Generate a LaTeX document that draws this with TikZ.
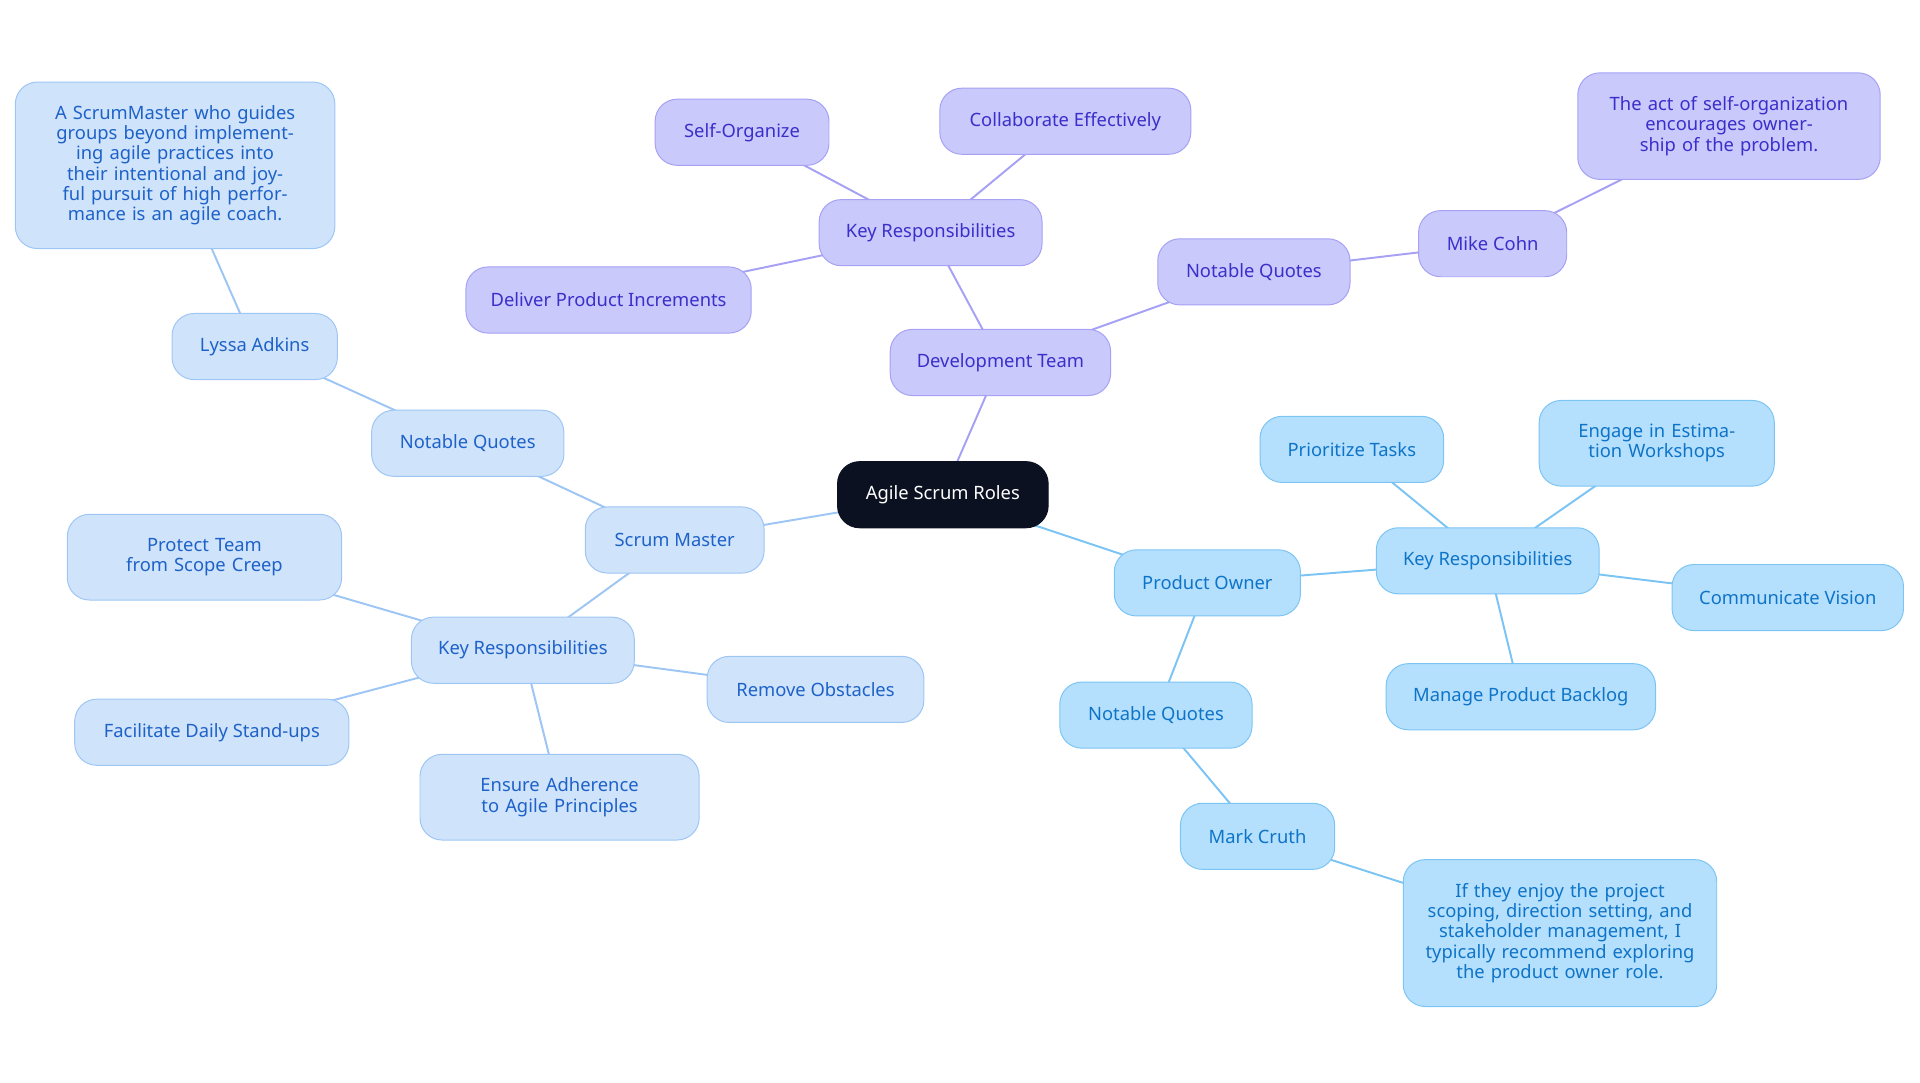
\documentclass[tikz,border=0pt]{standalone}
\usepackage{fontspec}
\setmainfont{Noto Sans}
\definecolor{rootc}{HTML}{0B1120}
\definecolor{pf}{HTML}{C9C9FC}\definecolor{ps}{HTML}{A6A1F4}\definecolor{pt}{HTML}{3B2FC9}
\definecolor{sf}{HTML}{CFE3FB}\definecolor{ss}{HTML}{9EC6F4}\definecolor{st}{HTML}{1E62C8}
\definecolor{of}{HTML}{B4E0FD}\definecolor{os}{HTML}{7CC4F4}\definecolor{ot}{HTML}{0F74C7}
\begin{document}
\begin{tikzpicture}[x=1pt,y=-1pt,
 base/.style={rounded corners=18pt,minimum height=54pt,align=center,font=\fontsize{15}{16.5}\selectfont,line width=0.8pt,inner sep=4pt},
 pn/.style={base,fill=pf,draw=ps,text=pt},
 sn/.style={base,fill=sf,draw=ss,text=st},
 on/.style={base,fill=of,draw=os,text=ot},
 pl/.style={draw=ps,line width=1.6pt},
 sl/.style={draw=ss,line width=1.6pt},
 ol/.style={draw=os,line width=1.6pt}]
\useasboundingbox (0,0) rectangle (1568,884);
\def\E#1#2#3{\draw[#1] (#2.center) -- (#3.center);}
% positions via coordinates first
\coordinate (croot) at (770,404);
\begin{scope}[every node/.style={}]
\end{scope}
% edges drawn with coordinates of nodes defined after -> define nodes in a pgfonlayer-free way: draw edges with named coordinates
\coordinate (Ar) at (770,404);
\coordinate (Ad) at (817,296);\coordinate (Akd) at (760,190);\coordinate (As) at (606,108);
\coordinate (Ac) at (870,99);\coordinate (Adl) at (497,245);\coordinate (And) at (1024,222);
\coordinate (Am) at (1219,199);\coordinate (Aqd) at (1412,103);
\coordinate (Asm) at (551,441);\coordinate (Ans) at (382,362);\coordinate (Al) at (208,283);
\coordinate (Aqs) at (143,135);\coordinate (Aks) at (427,531);\coordinate (Apr) at (167,455);
\coordinate (Af) at (173,598);\coordinate (Ae) at (457,651);\coordinate (Arm) at (666,563);
\coordinate (Ap) at (986,476);\coordinate (Akp) at (1215,458);\coordinate (Api) at (1104,367);
\coordinate (Aen) at (1353,362);\coordinate (Aco) at (1460,488);\coordinate (Ama) at (1242,569);
\coordinate (Anp) at (944,584);\coordinate (Amk) at (1027,683);\coordinate (Aqp) at (1274,762);
\E{pl}{Ar}{Ad}\E{pl}{Ad}{Akd}\E{pl}{Akd}{As}\E{pl}{Akd}{Ac}\E{pl}{Akd}{Adl}
\E{pl}{Ad}{And}\E{pl}{And}{Am}\E{pl}{Am}{Aqd}
\E{sl}{Ar}{Asm}\E{sl}{Asm}{Ans}\E{sl}{Ans}{Al}\E{sl}{Al}{Aqs}\E{sl}{Asm}{Aks}
\E{sl}{Aks}{Apr}\E{sl}{Aks}{Af}\E{sl}{Aks}{Ae}\E{sl}{Aks}{Arm}
\E{ol}{Ar}{Ap}\E{ol}{Ap}{Akp}\E{ol}{Akp}{Api}\E{ol}{Akp}{Aen}\E{ol}{Akp}{Aco}\E{ol}{Akp}{Ama}
\E{ol}{Ap}{Anp}\E{ol}{Anp}{Amk}\E{ol}{Amk}{Aqp}
\node[base,fill=rootc,draw=rootc,text=white,minimum width=172pt] (root) at (Ar) {Agile Scrum Roles};
\node[pn,minimum width=180pt] (dev) at (Ad) {Development Team};
\node[pn,minimum width=182pt] (kd) at (Akd) {Key Responsibilities};
\node[pn,minimum width=142pt] (so) at (As) {Self-Organize};
\node[pn,minimum width=205pt] (co) at (Ac) {Collaborate Effectively};
\node[pn,minimum width=233pt] (dl) at (Adl) {Deliver Product Increments};
\node[pn,minimum width=157pt] (nd) at (And) {Notable Quotes};
\node[pn,minimum width=121pt] (mc) at (Am) {Mike Cohn};
\node[pn,minimum width=247pt,minimum height=87pt,text width=215pt] (qd) at (Aqd) {The act of self-organization encourages ownership of the problem.};
\node[sn,minimum width=146pt] (sm) at (Asm) {Scrum Master};
\node[sn,minimum width=157pt] (ns) at (Ans) {Notable Quotes};
\node[sn,minimum width=135pt] (la) at (Al) {Lyssa Adkins};
\node[sn,minimum width=261pt,minimum height=136pt,text width=225pt] (qs) at (Aqs) {A ScrumMaster who guides groups beyond implementing agile practices into their intentional and joyful pursuit of high performance is an agile coach.};
\node[sn,minimum width=182pt] (ks) at (Aks) {Key Responsibilities};
\node[sn,minimum width=224pt,minimum height=70pt,text width=190pt] (pr) at (Apr) {Protect Team from Scope Creep};
\node[sn,minimum width=224pt] (fa) at (Af) {Facilitate Daily Stand-ups};
\node[sn,minimum width=228pt,minimum height=70pt,text width=200pt] (en) at (Ae) {Ensure Adherence to Agile Principles};
\node[sn,minimum width=177pt] (rm) at (Arm) {Remove Obstacles};
\node[on,minimum width=152pt] (po) at (Ap) {Product Owner};
\node[on,minimum width=182pt] (kp) at (Akp) {Key Responsibilities};
\node[on,minimum width=150pt] (pt) at (Api) {Prioritize Tasks};
\node[on,minimum width=192pt,minimum height=70pt,text width=160pt] (eg) at (Aen) {Engage in Estimation Workshops};
\node[on,minimum width=189pt] (cv) at (Aco) {Communicate Vision};
\node[on,minimum width=220pt] (mb) at (Ama) {Manage Product Backlog};
\node[on,minimum width=157pt] (np) at (Anp) {Notable Quotes};
\node[on,minimum width=126pt] (mk) at (Amk) {Mark Cruth};
\node[on,minimum width=256pt,minimum height=120pt,text width=225pt] (qp) at (Aqp) {If they enjoy the project scoping, direction setting, and stakeholder management, I typically recommend exploring the product owner role.};
\end{tikzpicture}
\end{document}
